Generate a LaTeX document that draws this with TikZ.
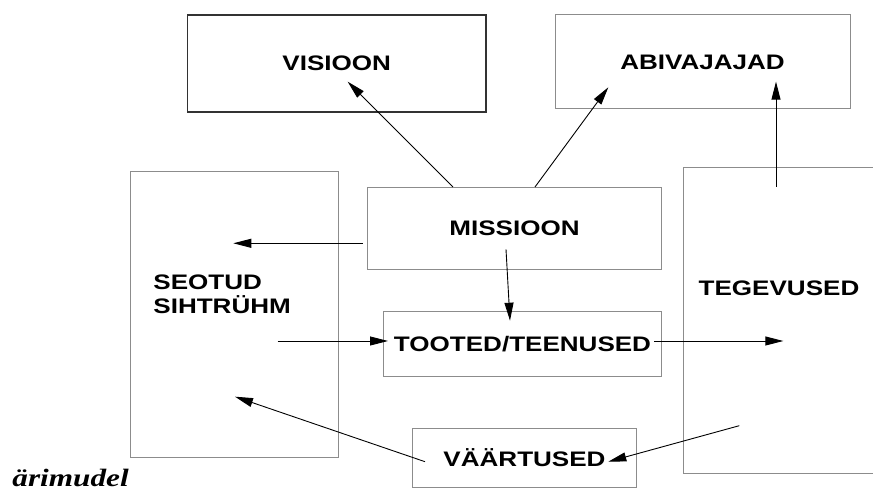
\documentclass[tikz,border=0pt]{standalone}
\usepackage{fontspec}
\usetikzlibrary{arrows.meta}
\newfontfamily\boxfont[FakeStretch=1.24]{Liberation Sans}
\newfontfamily\titlefont[FakeStretch=1.25]{Liberation Serif}

\tikzset{
    box/.style={draw=boxgray, line width=0.5pt, inner sep=0pt,
        font=\boxfont\bfseries\fontsize{10.5}{12}\selectfont},
    label/.style={inner sep=0pt, align=left,
        font=\boxfont\bfseries\fontsize{10.5}{12}\selectfont},
    link/.style={line width=0.45pt, -{Triangle[length=9pt,width=4.5pt]}}
}

\begin{document}
\begin{tikzpicture}[x=0.5pt, y=-0.5pt]
    % Define colors
    \definecolor{boxgray}{RGB}{140, 140, 140}
    \definecolor{darkgray}{RGB}{50, 50, 50}

    % Page frame
    \clip (0,0) rectangle (873,490);

    % Top boxes
    \node[box, draw=darkgray, line width=0.7pt, minimum width=149.4pt, minimum height=48.5pt] (visioon) at (336.7,63.5) {VISIOON};
    \node[box, minimum width=147.5pt, minimum height=47pt] (abivajajad) at (702.5,62) {ABIVAJAJAD};

    % Middle boxes
    \node[box, minimum width=147.2pt, minimum height=40.8pt] (missioon) at (514.5,228.5) {MISSIOON};
    \node[box, minimum width=139.2pt, minimum height=32.5pt] (tooted) at (522.5,344.2) {TOOTED/TEENUSED};
    \node[box, minimum width=112.2pt, minimum height=29.5pt] (vaartused) at (524.5,457.8) {VÄÄRTUSED};

    % Side boxes
    \node[box, minimum width=104pt, minimum height=143pt] (seotud) at (234,314.7) {};
    \node[box, minimum width=115pt, minimum height=153pt] (tegevused) at (798.3,321) {};
    \node[label, anchor=west] (seotudtxt) at (153,294) {SEOTUD\\SIHTRÜHM};
    \node[label] (tegevusedtxt) at (779,288.3) {TEGEVUSED};

    % Title
    \node[inner sep=0pt, anchor=base west, font=\titlefont\bfseries\itshape\fontsize{12.5}{14}\selectfont] (title) at (12,486.7) {ärimudel};

    % Arrow ends
    \coordinate (mis-a) at (453,187);
    \coordinate (mis-b) at (535,187);
    \coordinate (mis-c) at (362.7,243.3);
    \coordinate (mis-d) at (506,249.3);
    \coordinate (vis-in) at (347.7,81.7);
    \coordinate (abi-a) at (608.3,87.3);
    \coordinate (abi-b) at (776,81.7);
    \coordinate (teg-a) at (776,187);
    \coordinate (teg-b) at (783.3,341);
    \coordinate (teg-c) at (739.3,425.7);
    \coordinate (seo-a) at (233.3,243.3);
    \coordinate (seo-b) at (277.7,341);
    \coordinate (seo-c) at (235,396.7);
    \coordinate (too-a) at (510,320.7);
    \coordinate (too-b) at (388,341);
    \coordinate (too-c) at (654,341);
    \coordinate (vaa-a) at (608.3,461.7);
    \coordinate (vaa-b) at (425,461.7);

    % Connectors
    \draw[link] (mis-a) -- (vis-in);
    \draw[link] (mis-b) -- (abi-a);
    \draw[link] (teg-a) -- (abi-b);
    \draw[link] (mis-c) -- (seo-a);
    \draw[link] (mis-d) -- (too-a);
    \draw[link] (seo-b) -- (too-b);
    \draw[link] (too-c) -- (teg-b);
    \draw[link] (teg-c) -- (vaa-a);
    \draw[link] (vaa-b) -- (seo-c);

\end{tikzpicture}
\end{document}
